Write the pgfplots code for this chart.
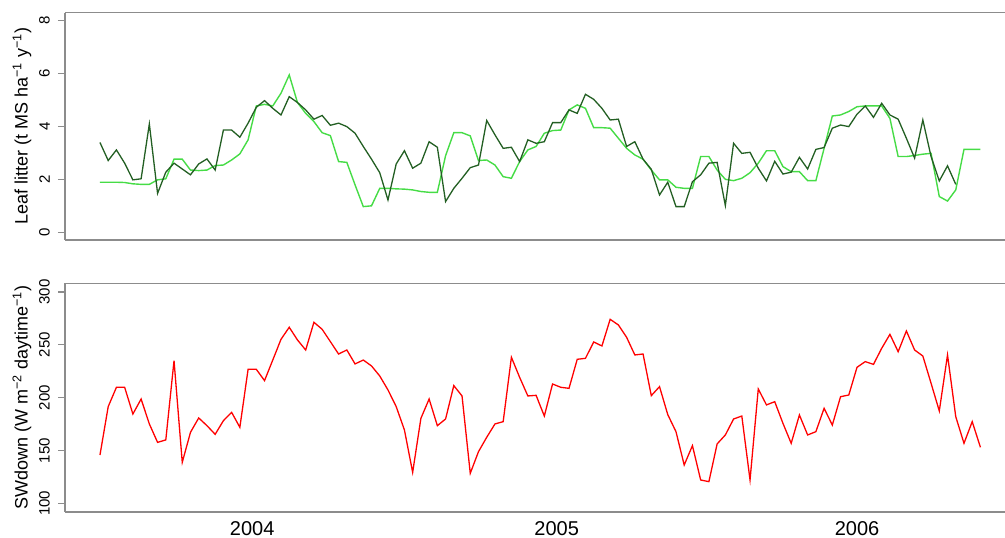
\documentclass[border=0pt]{standalone}
\usepackage{pgfplots}
\pgfplotsset{compat=1.18}
\usepackage{pgfplotstable}
\usepackage{fontspec}
\setmainfont{Liberation Sans}
\definecolor{dkg}{RGB}{35,95,35}
\definecolor{ltg}{RGB}{70,220,70}
\definecolor{frm}{RGB}{140,140,140}

\pgfplotstableread{
x y
0 145.7
1 191.5
2 209.8
3 209.8
4 184.5
5 198.7
6 175.1
7 157.7
8 160
9 235
10 138.8
11 167.2
12 180.8
13 173.5
14 165.3
15 178.2
16 186.1
17 171.9
18 226.8
19 226.8
20 216.1
21 235.6
22 255.2
23 266.6
24 254.6
25 245.1
26 271.3
27 264.7
28 253
29 241.3
30 245.1
31 231.9
32 235.6
33 230
34 220.5
35 207.3
36 191.5
37 169.4
38 129.3
39 180.4
40 198.7
41 173.5
42 179.8
43 211.4
44 201.6
45 128.4
46 148.9
47 162.5
48 175.1
49 177.3
50 238.2
51 219.2
52 201.6
53 202.2
54 182.6
55 212.9
56 209.8
57 208.8
58 236.3
59 237.2
60 252.7
61 248.9
62 274.1
63 268.8
64 257.1
65 240.4
66 241.3
67 201.9
68 210.4
69 184
70 167.8
71 136.3
72 154.6
73 122.1
74 120.5
75 156.2
76 164.7
77 179.8
78 182.6
79 122.1
80 208.2
81 193.1
82 196.2
83 175.7
84 156.8
85 183.6
86 164.7
87 167.8
88 189.9
89 174.1
90 200.9
91 202.5
92 228.7
93 234.1
94 231.5
95 246.7
96 259.9
97 243.5
98 263.1
99 245.1
100 239.4
101 213.6
102 187.4
103 240.4
104 182
105 156.8
106 177.3
107 153
}\redtab

\pgfplotstableread{
x y
0 3.40
1 2.72
2 3.12
3 2.62
4 1.99
5 2.03
6 4.10
7 1.48
8 2.28
9 2.62
10 2.40
11 2.18
12 2.59
13 2.78
14 2.36
15 3.87
16 3.87
17 3.60
18 4.13
19 4.73
20 4.98
21 4.69
22 4.44
23 5.13
24 4.91
25 4.63
26 4.28
27 4.42
28 4.05
29 4.13
30 4.00
31 3.75
32 3.25
33 2.77
34 2.26
35 1.23
36 2.59
37 3.09
38 2.43
39 2.62
40 3.43
41 3.22
42 1.17
43 1.67
44 2.05
45 2.45
46 2.55
47 4.23
48 3.69
49 3.18
50 3.22
51 2.68
52 3.50
53 3.37
54 3.43
55 4.15
56 4.15
57 4.63
58 4.50
59 5.22
60 5.03
61 4.69
62 4.25
63 4.28
64 3.25
65 3.43
66 2.77
67 2.39
68 1.42
69 1.90
70 0.98
71 0.98
72 1.92
73 2.18
74 2.62
75 2.65
76 1.02
77 3.37
78 2.99
79 3.03
80 2.43
81 1.95
82 2.69
83 2.21
84 2.28
85 2.84
86 2.40
87 3.14
88 3.21
89 3.94
90 4.06
91 4.00
92 4.47
93 4.78
94 4.35
95 4.88
96 4.44
97 4.28
98 3.56
99 2.81
100 4.25
101 2.87
102 1.95
103 2.52
104 1.82
}\dkgtab

\pgfplotstableread{
x y
0 1.90
1 1.90
2 1.90
3 1.89
4 1.84
5 1.82
6 1.82
7 1.99
8 2.03
9 2.77
10 2.77
11 2.36
12 2.34
13 2.36
14 2.53
15 2.55
16 2.74
17 2.97
18 3.50
19 4.78
20 4.84
21 4.78
22 5.26
23 5.95
24 4.91
25 4.50
26 4.19
27 3.77
28 3.66
29 2.68
30 2.65
31 1.80
32 0.98
33 1.01
34 1.67
35 1.67
36 1.65
37 1.64
38 1.61
39 1.55
40 1.52
41 1.52
42 2.90
43 3.77
44 3.77
45 3.65
46 2.72
47 2.74
48 2.55
49 2.11
50 2.05
51 2.68
52 3.12
53 3.25
54 3.75
55 3.85
56 3.87
57 4.63
58 4.82
59 4.69
60 3.96
61 3.96
62 3.94
63 3.56
64 3.18
65 2.93
66 2.77
67 2.36
68 1.99
69 1.99
70 1.71
71 1.67
72 1.67
73 2.87
74 2.87
75 2.36
76 2.01
77 1.96
78 2.05
79 2.26
80 2.62
81 3.09
82 3.09
83 2.49
84 2.30
85 2.30
86 1.96
87 1.96
88 3.18
89 4.40
90 4.44
91 4.57
92 4.75
93 4.78
94 4.78
95 4.78
96 4.31
97 2.87
98 2.87
99 2.91
100 2.96
101 2.99
102 1.36
103 1.19
104 1.61
105 3.14
106 3.14
107 3.14
}\ltgtab

\pgfplotsset{
  myax/.style={
    scale only axis, width=950pt,
    xmin=-4.25, xmax=111.2,
    separate axis lines,
    axis x line*=box, axis y line*=left,
    axis line style={draw=frm, line width=1.1pt},
    tick align=outside, major tick length=7pt,
    ytick style={draw=frm, line width=1.1pt},
    xtick style={draw=none},
    /pgf/number format/assume math mode=true,
    yticklabel style={font=\fontsize{15}{15}\selectfont, rotate=90, anchor=south, inner sep=0pt},
    yticklabel shift=8pt,
    every axis y label/.style={at={(rel axis cs:0,0.5)}, xshift=-43pt, rotate=90, anchor=center, font=\fontsize{18}{18}\selectfont},
    clip=false,
  }
}

\begin{document}
\begin{tikzpicture}[x=1pt,y=1pt]
\useasboundingbox (0,0) rectangle (1005,538);
\clip (0,0) rectangle (1005,538);
\begin{axis}[myax,
  at={(65pt,298pt)}, anchor=south west, height=227.3pt,
  ymin=-0.28, ymax=8.30, ytick={0,2,4,6,8},
  xtick=\empty,
  ylabel={Leaf litter (t MS ha\textsuperscript{−1} y\textsuperscript{−1})},
]
\addplot[ltg, line width=1.4pt] table[x=x,y=y] {\ltgtab};
\addplot[dkg, line width=1.3pt] table[x=x,y=y] {\dkgtab};
\end{axis}
\begin{axis}[myax,
  at={(65pt,26pt)}, anchor=south west, height=228.7pt,
  ymin=91.8, ymax=308.2, ytick={100,150,200,250,300},
  xtick={18.5,55.5,92}, xticklabels={2004,2005,2006},
  xticklabel pos=left,
  xticklabel style={font=\fontsize{20}{20}\selectfont, anchor=north, inner sep=0pt, yshift=0pt},
  xticklabel shift=2pt,
  ylabel={SWdown (W m\textsuperscript{−2} daytime\textsuperscript{−1})},
]
\addplot[red, line width=1.3pt] table[x=x,y=y] {\redtab};
\end{axis}
\end{tikzpicture}
\end{document}
